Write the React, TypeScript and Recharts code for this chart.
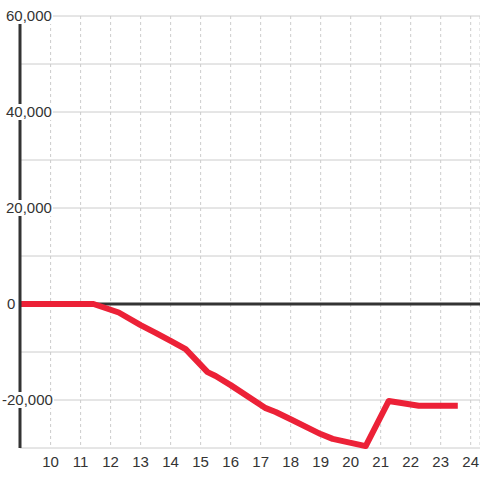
import React from "react";
import {
  LineChart,
  Line,
  XAxis,
  YAxis,
  CartesianGrid,
  ReferenceLine,
} from "recharts";

const xs = [8.98, 11.43, 12.27, 13, 13.5, 14, 14.5, 15.23, 15.5, 16, 17.17, 17.5, 18, 19, 19.4, 20.5, 21.27, 22.27, 23.57];
const values = [0, 0, -1770, -4400, -6000, -7700, -9400, -14200, -15000, -16900, -21700, -22500, -24000, -27100, -28100, -29600, -20200, -21200, -21200];
const xTicks = [10, 11, 12, 13, 14, 15, 16, 17, 18, 19, 20, 21, 22, 23, 24];
const yTicks = [-30000, -20000, -10000, 0, 10000, 20000, 30000, 40000, 50000, 60000];
const xDomain = [8.98, 24.31];
const yDomain = [-30000, 60000];

const data = xs.map((x, i) => ({ x, v: values[i] }));

const FONT = "'Liberation Sans', Arial, sans-serif";

const charW = (c: string) => (c === "," ? 4.17 : c === "-" ? 5 : 8.34);

const YTick = (props: any) => {
  const { x, y, payload } = props;
  const v = payload.value as number;
  if (v % 20000 !== 0) return <g />;
  const label = v.toLocaleString("en-US");
  const tx = v < 0 ? x - 10 : v === 0 ? x - 5 : x - 6;
  let w = 0;
  for (const c of label) w += charW(c);
  return (
    <g>
      <rect x={tx - 1} y={y - 8} width={w + 2} height={16} fill="#ffffff" />
      <text
        x={tx}
        y={y}
        dy="0.36em"
        textAnchor="start"
        fill="#333"
        fontSize={15}
        fontFamily={FONT}
      >
        {label}
      </text>
    </g>
  );
};

export default function App() {
  return (
    <div style={{ position: "absolute", left: 0, top: 0, width: 480, height: 480, background: "#fff" }}>
      <LineChart
        width={480}
        height={480}
        data={data}
        margin={{ top: 16, right: 0, bottom: 0, left: 0 }}
      >
        <CartesianGrid horizontal={true} vertical={false} stroke="#cccccc" strokeWidth={1} />
        <CartesianGrid horizontal={false} vertical={true} stroke="#cccccc" strokeDasharray="3 3" strokeWidth={1} />
        <XAxis
          dataKey="x"
          type="number"
          domain={xDomain}
          ticks={xTicks}
          allowDataOverflow
          axisLine={false}
          tickLine={false}
          height={32}
          tick={{ fill: "#333", fontSize: 15, fontFamily: FONT }}
          interval={0}
        />
        <YAxis
          type="number"
          domain={yDomain}
          ticks={yTicks}
          width={20}
          interval={0}
          axisLine={{ stroke: "#333", strokeWidth: 3 }}
          tickLine={false}
          tick={<YTick />}
        />
        <ReferenceLine y={0} stroke="#333" strokeWidth={3} />
        <Line
          type="linear"
          dataKey="v"
          stroke="#ec2137"
          strokeWidth={6}
          dot={false}
          strokeLinejoin="round"
          isAnimationActive={false}
        />
      </LineChart>
    </div>
  );
}
